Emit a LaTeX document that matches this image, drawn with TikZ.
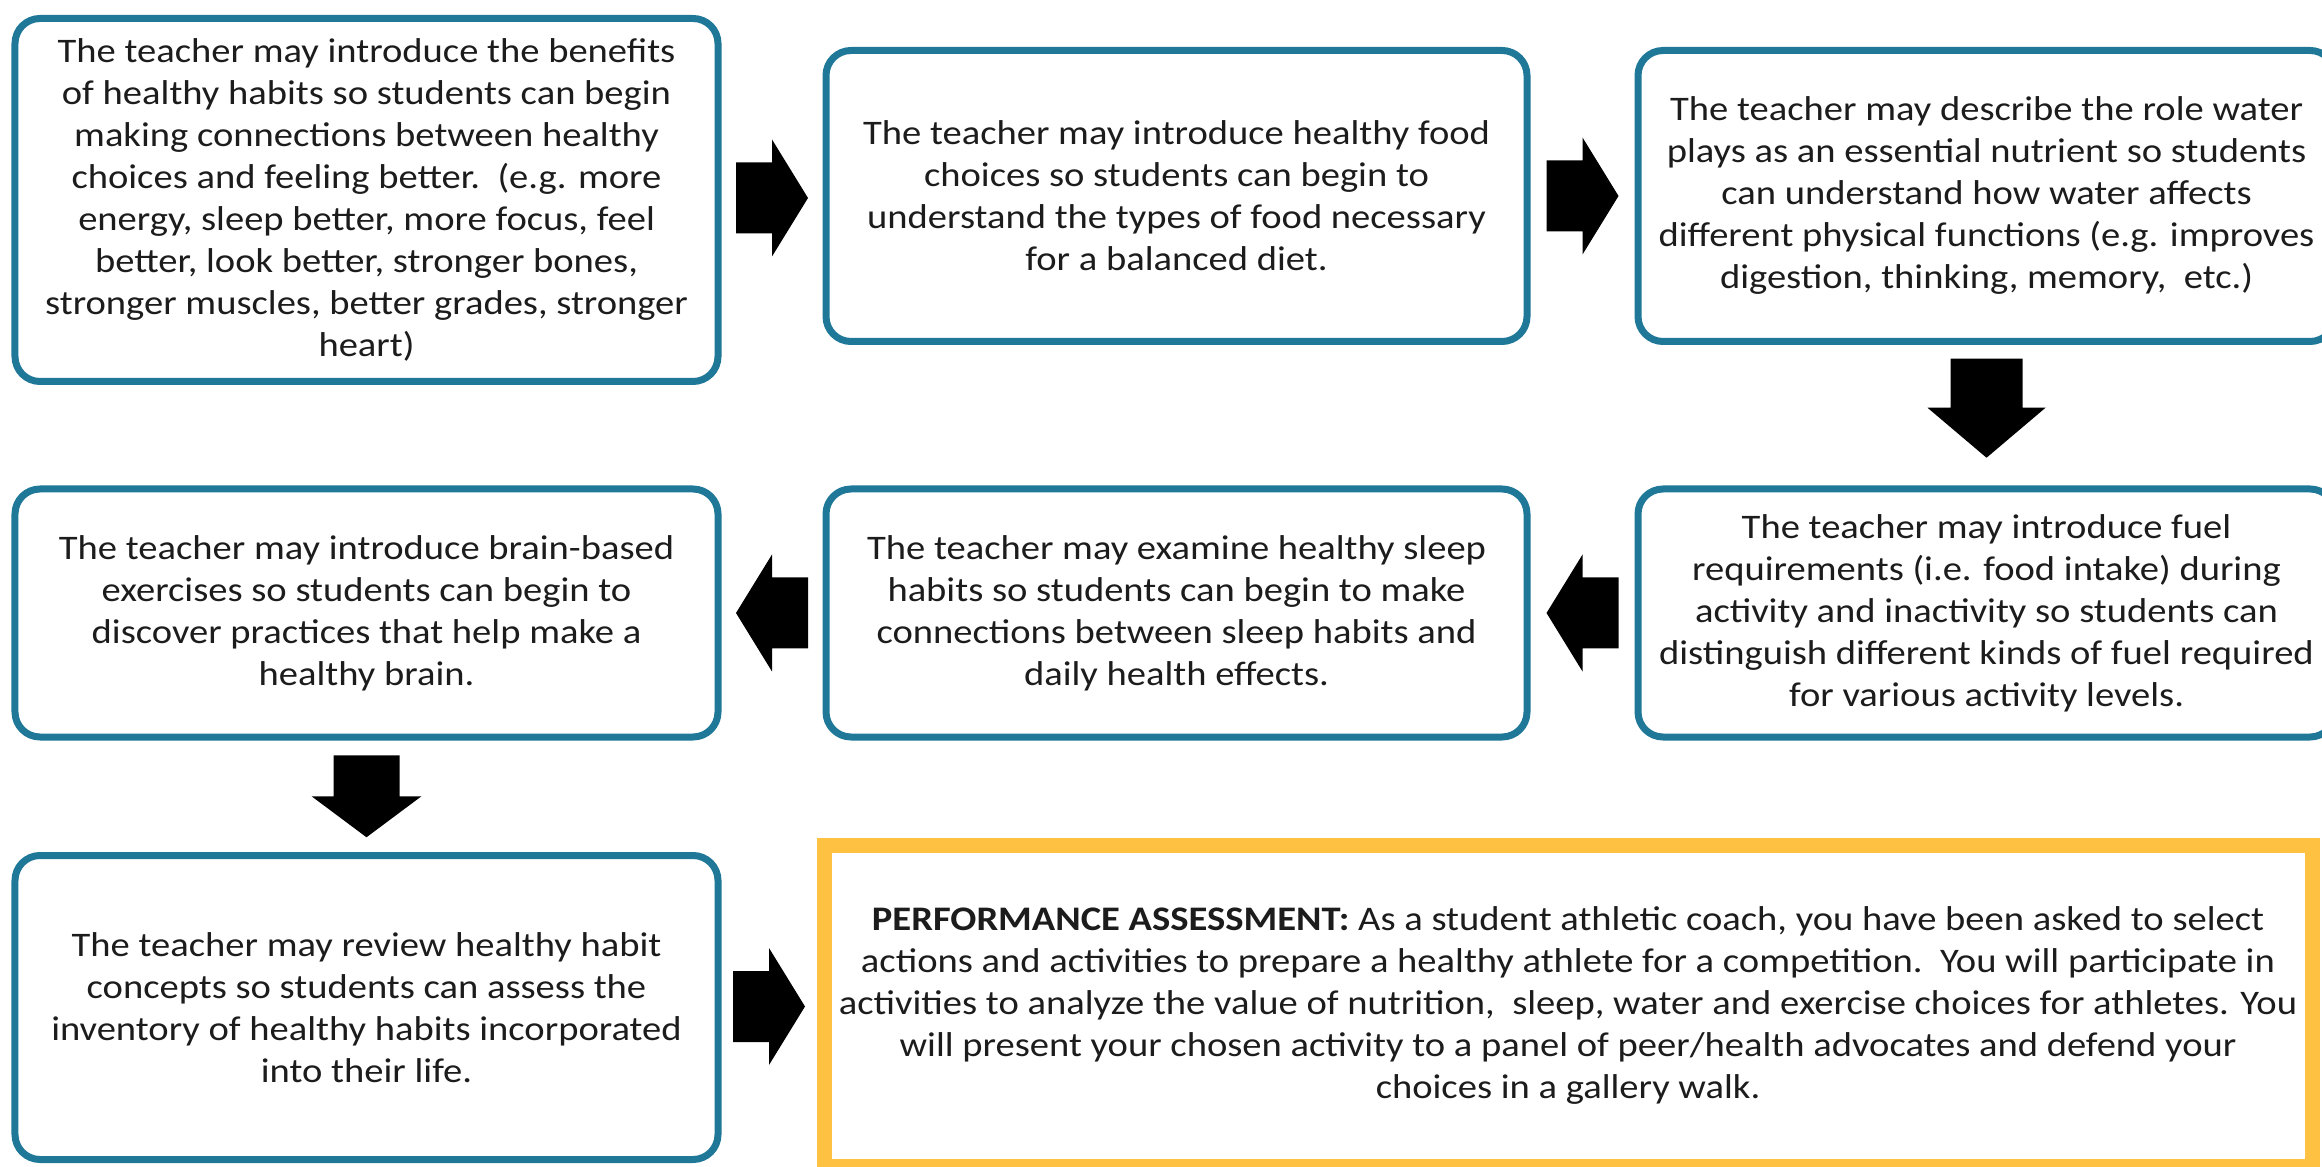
\documentclass[tikz,border=0pt]{standalone}
\usepackage{fontspec}
\setmainfont{Carlito}[FakeStretch=1.12]
\usepackage{xcolor}
\usetikzlibrary{calc,positioning}
\definecolor{boxteal}{RGB}{31,120,152}
\definecolor{boxgold}{RGB}{255,193,66}
\definecolor{textgray}{RGB}{28,28,28}
\tikzset{
	pics/blockarrow/.style n args={4}{code={
		\fill[black] (-#1/2,-#2/2) -- (#1/2-#4,-#2/2) -- (#1/2-#4,-#3/2) -- (#1/2,0) -- (#1/2-#4,#3/2) -- (#1/2-#4,#2/2) -- (-#1/2,#2/2) -- cycle;
	}}
}
\begin{document}
\begin{tikzpicture}
			\tikzstyle{every node}=[font=\fontsize{9.8pt}{11.95pt}\selectfont, text=textgray, align=center, inner sep=0pt]
			\tikzstyle{stepbox}=[draw=boxteal, line width=0.07cm, rounded corners=0.25cm, fill=white]
			\tikzstyle{taskbox}=[draw=boxgold, line width=0.15cm, fill=white]
			\useasboundingbox (0,0) rectangle (23.22,11.66);
			\clip (0,0) rectangle (23.22,11.66);
			% first row
			\node [stepbox, minimum width=7.03cm, minimum height=3.63cm] (b1) at (3.665,9.66) {The teacher may introduce the benefits\\of healthy habits so students can begin\\making connections between healthy\\choices and feeling better.\ \ (e.g. more\\energy, sleep better, more focus, feel\\better, look better, stronger bones,\\stronger muscles, better grades, stronger\\heart)};
			\node [stepbox, minimum width=7.01cm, minimum height=2.91cm] (b2) at (11.765,9.70) {The teacher may introduce healthy food\\choices so students can begin to\\understand the types of food necessary\\for a balanced diet.};
			\node [stepbox, minimum width=6.97cm, minimum height=2.91cm] (b3) at (19.865,9.70) {The teacher may describe the role water\\plays as an essential nutrient so students\\can understand how water affects\\different physical functions (e.g. improves\\digestion, thinking, memory,\ \ etc.)};
			% second row
			\node [stepbox, minimum width=6.97cm, minimum height=2.48cm] (b4) at (19.865,5.53) {The teacher may introduce fuel\\requirements (i.e. food intake) during\\activity and inactivity so students can\\distinguish different kinds of fuel required\\for various activity levels.};
			\node [stepbox, minimum width=7.01cm, minimum height=2.48cm] (b5) at (11.765,5.53) {The teacher may examine healthy sleep\\habits so students can begin to make\\connections between sleep habits and\\daily health effects.};
			\node [stepbox, minimum width=7.03cm, minimum height=2.48cm] (b6) at (3.665,5.53) {The teacher may introduce brain-based\\exercises so students can begin to\\discover practices that help make a\\healthy brain.};
			% third row
			\node [stepbox, minimum width=7.03cm, minimum height=3.04cm] (b7) at (3.665,1.585) {The teacher may review healthy habit\\concepts so students can assess the\\inventory of healthy habits incorporated\\into their life.};
			\node [taskbox, minimum width=14.88cm, minimum height=3.21cm] (b8) at (15.68,1.605) {\textbf{PERFORMANCE ASSESSMENT:} As a student athletic coach, you have been asked to select\\actions and activities to prepare a healthy athlete for a competition.\ \ You will participate in\\activities to analyze the value of nutrition,\ \ sleep, water and exercise choices for athletes. You\\will present your chosen activity to a panel of peer/health advocates and defend your\\choices in a gallery walk.};
			% block arrows
			\pic at ($(b1.east)!0.5!(b2.west)$) {blockarrow={0.72}{0.71}{1.17}{0.36}};
			\pic at ($(b2.east)!0.5!(b3.west)$) {blockarrow={0.72}{0.71}{1.17}{0.36}};
			\pic [rotate=-90] at ($(b3.south)!0.5!(b4.north)+(0,0.07)$) {blockarrow={0.99}{0.72}{1.18}{0.50}};
			\pic [rotate=180] at ($(b4.west)!0.5!(b5.east)$) {blockarrow={0.72}{0.71}{1.17}{0.36}};
			\pic [rotate=180] at ($(b5.west)!0.5!(b6.east)$) {blockarrow={0.72}{0.71}{1.17}{0.36}};
			\pic [rotate=-90] at ($(b6.south)!0.5!(b7.north)$) {blockarrow={0.82}{0.66}{1.10}{0.41}};
			\pic at ($(b7.east)!0.5!(b8.west)$) {blockarrow={0.72}{0.71}{1.17}{0.36}};
\end{tikzpicture}
\end{document}
